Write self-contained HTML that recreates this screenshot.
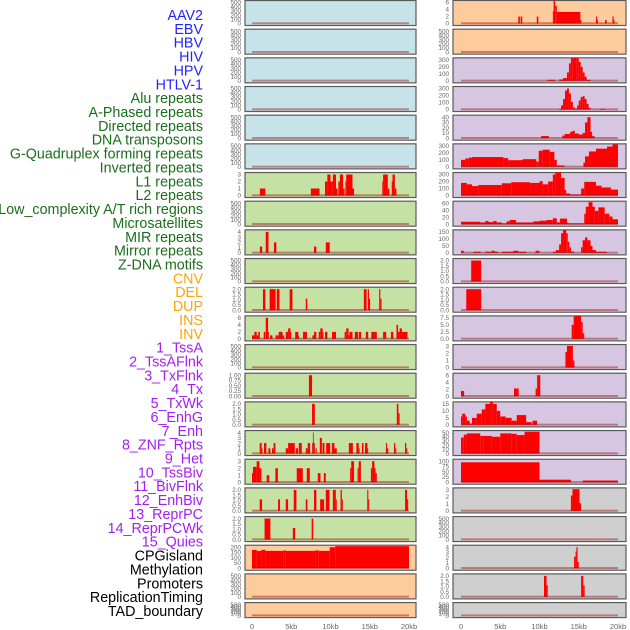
<!DOCTYPE html>
<html><head><meta charset="utf-8"><style>
html,body{margin:0;padding:0;background:#fff;width:630px;height:630px;overflow:hidden}
svg{display:block;font-family:"Liberation Sans",sans-serif}
</style></head><body>
<svg id="chart" width="630" height="630" viewBox="0 0 630 630" xmlns="http://www.w3.org/2000/svg"></svg>
<script>
// ---- labels ----
const trackLabels = ["AAV2","EBV","HBV","HIV","HPV","HTLV-1","Alu repeats","A-Phased repeats","Directed repeats","DNA transposons","G-Quadruplex forming repeats","Inverted repeats","L1 repeats","L2 repeats","Low_complexity A/T rich regions","Microsatellites","MIR repeats","Mirror repeats","Z-DNA motifs","CNV","DEL","DUP","INS","INV","1_TssA","2_TssAFlnk","3_TxFlnk","4_Tx","5_TxWk","6_EnhG","7_Enh","8_ZNF_Rpts","9_Het","10_TssBiv","11_BivFlnk","12_EnhBiv","13_ReprPC","14_ReprPCWk","15_Quies","CPGisland","Methylation","Promoters","ReplicationTiming","TAD_boundary"];
const labelGroups = [6,13,5,15,5];
const xTickLabels = ["0","5kb","10kb","15kb","20kb"];
const xTickValues = [0,5,10,15,20];

// ---- tick sets ----
const tEmpty = [0,100,200,300,400,500];
const t0to3 = [0,1,2,3];
const t0to4 = [0,1,2,3,4];
const t0to6 = [0,2,4,6];
const t0to2 = ["0.0","0.5","1.0","1.5","2.0"];
const t0to1 = ["0.00","0.25","0.50","0.75","1.00"];
const t0to200 = [0,50,100,150,200];
const t0to300 = [0,100,200,300];
const t0to40 = [0,10,20,30,40];
const t0to60 = [0,20,40,60];
const t0to150 = [0,50,100,150];
const t0to7 = ["0.0","2.5","5.0","7.5"];
const t0to15 = [0,5,10,15];
const t0to50 = [0,10,20,30,40,50];
const t0to100 = [0,25,50,75,100];

// ---- left column data: [startKb, endKb, value] ----
const l1Repeats = [[1.0,1.7,1],[7.5,8.6,1],[9.3,9.6,2],[9.6,10.0,3],[10.0,10.3,2],[10.3,10.7,3],[10.7,10.9,1],[11.0,11.2,2],[11.2,11.6,3],[11.6,11.8,1],[11.9,12.0,2],[12.0,12.8,3],[12.8,13.0,1],[16.6,16.7,2],[16.7,17.3,3],[17.3,17.5,1],[17.8,17.9,2],[17.9,18.2,3],[18.2,18.4,1]];
const mirRepeats = [[1.0,1.3,1.2],[1.75,2.1,4],[2.8,3.1,2],[7.9,8.2,1.2],[9.4,9.9,2]];
const delLeft = [[1.4,1.7,2],[2.25,3.0,2],[3.15,3.5,2],[4.8,5.15,2],[6.85,7.05,1.1],[14.25,14.6,2],[14.75,14.9,2],[14.9,15.05,1.1],[16.2,16.35,2],[16.35,16.5,1.1]];
const insLeft = [[0.0,0.3,1],[0.3,0.6,2],[0.6,0.8,1],[0.8,1.0,2],[1.5,1.7,2],[1.75,2.05,6],[2.05,2.1,2],[2.3,2.6,1],[3.0,3.4,1],[3.4,3.9,2],[3.9,4.1,1],[4.3,4.6,2],[4.6,4.9,3],[4.9,5.0,2],[5.5,5.9,2],[5.9,6.0,1],[6.5,7.0,2],[7.7,7.9,1],[7.9,8.2,2],[8.5,8.7,2],[8.7,9.0,3],[9.0,9.1,2],[9.3,9.6,2],[10.2,10.7,2],[11.8,12.0,2],[12.0,12.3,3],[12.3,12.4,1],[12.4,12.8,2],[13.1,13.5,2],[13.6,13.9,2],[14.5,14.8,2],[15.2,15.9,2],[16.7,17.1,2],[17.7,18.0,2],[18.4,18.6,4],[18.6,18.8,2],[18.8,19.1,3],[19.1,19.8,2]];
const txFlnkLeft = [[7.25,7.65,1]];
const txLeft = [[7.65,8.0,2],[18.45,18.65,2],[18.65,18.8,1.1]];
const txWkLeft = [[0.98,1.23,2],[1.23,1.33,1],[1.53,1.83,2],[2.09,2.34,1],[2.55,2.75,1],[2.75,2.98,2],[4.3,4.6,1],[4.6,5.45,2],[5.57,5.87,1],[5.96,6.34,2],[6.85,7.1,1],[7.1,7.4,2],[7.66,7.76,2],[7.76,7.84,4],[7.84,8.0,2],[8.1,8.25,1],[8.64,8.9,3],[8.98,9.23,2],[9.45,9.96,2],[10.17,10.5,2],[10.5,10.8,1],[12.34,12.85,2],[13.3,13.6,2],[13.6,13.7,1],[14.0,14.2,2],[14.4,14.7,2],[14.7,14.8,1],[17.06,17.2,2],[17.2,17.36,1],[18.09,18.25,2],[18.25,18.38,1],[19.49,19.65,2],[19.65,19.79,1]];
const enhGLeft = [[0,0.13,1.3],[0.13,0.6,2.2],[0.6,0.94,3],[0.94,1.2,2],[1.87,2.2,1],[2.98,3.3,2],[5.7,6.47,2],[6.98,7.36,2],[8.38,8.72,1.3],[9.15,9.4,1.3],[12.5,12.64,2],[12.64,13.0,3],[13.45,13.6,2],[13.6,13.87,3],[15.15,15.3,2],[15.3,15.6,3],[15.6,15.74,2],[15.74,15.9,1.3]];
const enhLeft = [[0.98,1.28,1.1],[3.32,3.57,1.1],[4.3,4.6,1.1],[5.32,5.66,2],[6.85,7.06,1.1],[7.9,8.2,2],[8.68,9.19,1.1],[9.4,9.87,2],[10.3,10.68,2],[10.68,10.8,1.1],[11.28,11.45,2],[11.45,11.57,1.1],[14.68,14.82,2],[14.82,14.94,1.1],[19.5,19.75,2],[19.75,19.9,1.1]];
const znfLeft = [[1.6,2.34,2],[5.2,5.5,1.1],[7.6,7.8,2]];
const cpgLeft = [[0,0.6,175],[0.6,1.2,165],[1.2,1.7,175],[1.7,4.0,165],[4.0,4.3,170],[4.3,8.1,165],[8.1,8.5,170],[8.5,9.9,165],[9.9,10.6,200],[10.6,20.0,210]];

// ---- right column data ----
const aav2Right = [[7.3,7.5,2],[7.6,7.8,2],[9.65,9.85,2],[11.7,11.8,3.5],[11.8,12.0,7.5],[12.0,12.2,5],[12.2,15.2,3.3],[15.2,15.35,1],[17.2,17.35,2],[17.35,17.45,1],[18.35,18.55,1],[19.3,19.45,2],[19.45,19.55,1]];
const hivRight = [[11.0,12.0,15],[12.5,13.0,20],[13.0,13.5,40],[13.5,13.75,120],[13.75,14.0,250],[14.0,14.25,330],[14.25,14.75,370],[14.75,15.0,330],[15.0,15.25,270],[15.25,15.5,200],[15.5,15.75,120],[15.75,16.0,60],[16.0,16.5,15]];
const hpvRight = [[12.5,12.75,10],[12.75,13.0,60],[13.0,13.25,150],[13.25,13.5,270],[13.5,13.75,300],[13.75,14.0,230],[14.0,14.25,110],[14.25,14.5,30],[14.5,14.8,10],[14.8,15.0,60],[15.0,15.25,130],[15.25,15.5,180],[15.5,15.75,190],[15.75,16.0,150],[16.0,16.25,80],[16.25,16.5,25],[17.7,18.4,10]];
const htlvRight = [[10.2,11.2,4],[12.9,13.2,5],[13.2,13.9,8],[13.9,14.2,12],[14.2,14.5,14],[14.5,15.0,9],[15.0,15.5,7],[15.5,15.8,10],[15.8,16.1,30],[16.1,16.5,40],[16.5,16.7,12],[16.7,17.0,4]];
const aluRight = [[0,0.55,100],[0.55,1.0,120],[1.0,1.4,132],[1.4,5.4,140],[5.4,6.0,125],[6.0,7.7,95],[7.7,7.9,100],[7.9,9.6,110],[9.6,9.9,75],[9.9,10.4,230],[10.4,11.3,245],[11.3,11.9,215],[11.9,12.2,100],[12.2,13.2,20],[15.6,15.8,60],[15.8,16.3,150],[16.3,17.2,220],[17.2,18.6,260],[18.6,19.3,290],[19.3,20.0,320]];
const aPhasedRight = [[0,0.75,180],[0.75,1.4,160],[1.4,2.2,135],[2.2,5.2,150],[5.2,6.4,175],[6.4,8.8,190],[8.8,10.0,180],[10.0,10.4,205],[10.4,11.1,160],[11.1,11.7,200],[11.7,12.0,300],[12.0,12.75,380],[12.75,13.2,250],[13.2,13.4,80],[13.4,13.9,30],[13.9,15.3,15],[15.3,15.7,100],[15.7,17.2,195],[17.2,17.9,140],[17.9,19.1,115],[19.1,20.0,85]];
const directedRight = [[0,2.45,7],[2.45,3.1,5],[3.1,3.5,9],[3.5,4.1,6],[4.1,4.55,9],[4.55,5.2,5],[5.2,5.8,2],[5.8,6.2,8],[6.2,7.0,12],[7.0,9.2,5],[9.2,10.0,8],[10.0,10.9,10],[10.9,11.7,12],[11.7,12.2,17],[12.2,12.6,5],[12.6,13.5,16],[13.5,13.7,4],[13.7,15.7,2],[15.7,15.9,30],[15.9,16.25,50],[16.25,16.75,63],[16.75,17.05,50],[17.05,17.5,38],[17.5,18.3,48],[18.3,18.9,30],[18.9,19.3,22],[19.3,20.0,14]];
const dnaTransRight = [[0,0.35,15],[1.6,2.5,8],[3.1,3.9,8],[3.9,4.3,15],[4.3,4.75,8],[5.2,6.65,8],[6.65,7.3,15],[7.3,8.3,8],[9.5,10.0,15],[11.7,12.1,8],[12.1,12.5,20],[12.5,12.75,60],[12.75,13.0,140],[13.0,13.4,195],[13.4,13.6,140],[13.6,13.8,80],[13.8,14.0,40],[14.0,14.4,10],[15.3,15.5,40],[15.5,15.8,90],[15.8,16.1,110],[16.1,16.5,90],[16.5,16.75,50],[16.75,17.2,20],[17.2,18.6,8]];
const gQuadRight = [[1.3,2.57,2]];
const invertedRight = [[0.67,2.57,2]];
const l1Right = [[14.1,14.35,5],[14.35,14.65,8],[14.65,15.3,9.5],[15.3,15.5,6],[15.5,15.7,2]];
const l2Right = [[13.3,13.5,2.2],[13.5,14.25,3.1],[14.25,14.45,1]];
const lowCompRight = [[0,0.4,1.5],[6.75,7.35,2.2],[9.5,9.7,2.2],[9.7,10.1,6]];
const microRight = [[0,0.15,6],[0.15,0.55,8],[0.55,0.75,6],[0.75,1.1,3],[1.1,1.4,1],[1.4,2.0,5],[2.0,2.65,8],[2.65,3.1,11],[3.1,3.7,15],[3.7,4.05,17],[4.05,4.55,15],[4.55,5.0,10],[5.0,5.7,6],[5.7,6.45,5],[6.45,7.1,3],[7.1,8.3,7],[8.3,9.0,2],[9.1,9.7,3]];
const mirRight = [[0,0.35,38],[0.35,0.75,45],[0.75,2.45,48],[2.45,2.9,42],[2.9,3.9,42],[3.9,5.0,40],[5.0,6.45,48],[6.45,7.1,47],[7.1,8.1,44],[8.1,10.0,52]];
const mirrorRight = [[0,10.0,95],[10.0,14.0,12],[15.5,20.0,8]];
const zdnaRight = [[14.0,14.2,2.2],[14.2,15.1,3.1],[15.1,15.3,1.1]];
const tssARight = [[14.4,14.6,2.2],[14.6,14.7,3.2],[14.7,14.85,4],[14.85,15.0,1.2]];
const tssAFlnkRight = [[10.57,10.9,2],[10.9,11.05,1.1],[15.3,15.58,2],[15.58,15.75,1.1]];

const BLUE="#c6e3ea", GREEN="#c6e1a4", PURPLE="#d7c6e2", ORANGE="#fecc9c", GREY="#cfcfcf";
const leftPanels = [
 [BLUE,tEmpty,[]],[BLUE,tEmpty,[]],[BLUE,tEmpty,[]],[BLUE,tEmpty,[]],[BLUE,tEmpty,[]],[BLUE,tEmpty,[]],
 [GREEN,t0to3,l1Repeats],[GREEN,tEmpty,[]],[GREEN,t0to4,mirRepeats],[GREEN,tEmpty,[]],[GREEN,t0to2,delLeft],
 [GREEN,t0to6,insLeft],[GREEN,tEmpty,[]],[GREEN,t0to1,txFlnkLeft],[GREEN,t0to2,txLeft],[GREEN,t0to4,txWkLeft],
 [GREEN,t0to3,enhGLeft],[GREEN,t0to2,enhLeft],[GREEN,t0to2,znfLeft],[ORANGE,t0to200,cpgLeft],[ORANGE,tEmpty,[]],[ORANGE,tEmpty,[]]
];
const rightPanels = [
 [ORANGE,t0to6,aav2Right],[ORANGE,tEmpty,[]],[PURPLE,t0to300,hivRight],[PURPLE,t0to300,hpvRight],[PURPLE,t0to40,htlvRight],
 [PURPLE,t0to300,aluRight],[PURPLE,t0to300,aPhasedRight],[PURPLE,t0to60,directedRight],[PURPLE,t0to150,dnaTransRight],
 [PURPLE,t0to2,gQuadRight],[PURPLE,t0to2,invertedRight],[PURPLE,t0to7,l1Right],[PURPLE,t0to3,l2Right],[PURPLE,t0to6,lowCompRight],
 [PURPLE,t0to15,microRight],[PURPLE,t0to50,mirRight],[PURPLE,t0to100,mirrorRight],[GREY,t0to3,zdnaRight],[GREY,tEmpty,[]],
 [GREY,t0to4,tssARight],[GREY,t0to2,tssAFlnkRight],[GREY,tEmpty,[]]
];

const NS="http://www.w3.org/2000/svg";
const svg=document.getElementById('chart');
function mk(tag,attrs){const e=document.createElementNS(NS,tag);for(const k in attrs)e.setAttribute(k,attrs[k]);svg.appendChild(e);return e;}

// labels
const labelColors=["#2323ff","#1b6e1b","#ffa500","#a31ff0","#000000"];
let gi=0,cnt=0;
trackLabels.forEach((t,i)=>{
  const col=labelColors[gi];
  const e=mk('text',{x:203,y:20+i*13.86,'text-anchor':'end','font-size':'14.3',fill:col});
  e.textContent=t;
  
  
  cnt++; if(cnt>=labelGroups[gi]){gi++;cnt=0;}
});

const STEP=28.67, KBPX=7.85;
function drawPanel(col,i,p){
  const [bg,ticks,data]=p;
  const left = col===0?245:453, right = col===0?416:626;
  const x0 = col===0?252:461;
  const xs = kb=>x0+kb*KBPX;
  const top=i*STEP, h = i===21?15:25;
  const r=mk('rect',{x:left,y:top+0.5,width:right-left,height:h,fill:bg,stroke:'#5a5a5a','stroke-width':1.2});
  
  
  const maxT=parseFloat(ticks[ticks.length-1]);
  const yb=top+h-1.5, yt=top+2.5;
  const ys=v=>yb-(v/maxT)*(yb-yt);
  ticks.forEach(t=>{
    const tx=mk('text',{x:left-4,y:ys(parseFloat(t))+2.2,'text-anchor':'end','font-size':'6.3',fill:'#666'});
    tx.textContent=String(t);
    
    
  });
  data.forEach(d=>{
    const y=Math.max(top+0.5,ys(d[2]));
    const b=mk('rect',{x:xs(d[0]),y:y,width:Math.max(0.8,xs(d[1])-xs(d[0])),height:yb-y,fill:'#ff0000'});
    
    
  });
  const bl=mk('rect',{x:xs(0),y:yb-1.2,width:xs(20)-xs(0),height:2,fill:'#a01010',opacity:0.45});
  
  
  if(i===21){
    xTickValues.forEach((v,k)=>{
      const tx=mk('text',{x:xs(v),y:629,'text-anchor':'middle','font-size':'7.5',fill:'#666'});
      tx.textContent=xTickLabels[k];
      
      
    });
  }
}
leftPanels.forEach((p,i)=>drawPanel(0,i,p));
rightPanels.forEach((p,i)=>drawPanel(1,i,p));
</script>
</body></html>
